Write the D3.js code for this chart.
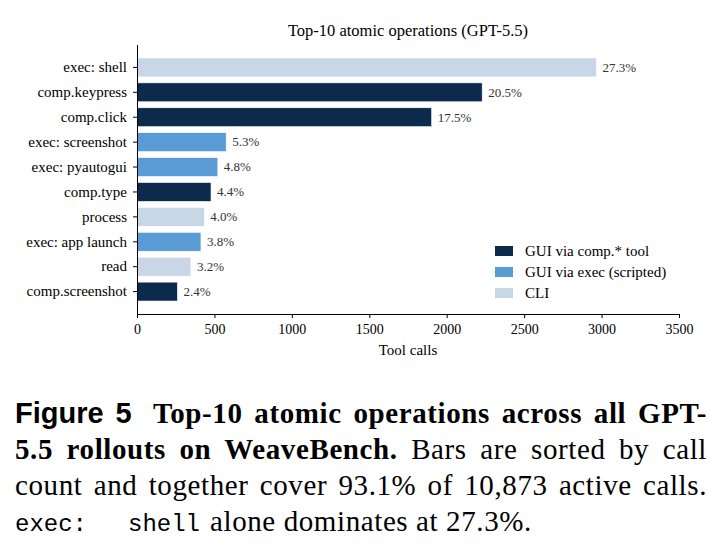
<!DOCTYPE html>
<html>
    <head>
        <title>Top-10 atomic operations</title>
        <style>
            body { margin: 0; background: #fff; }
            svg text { font-family: "Liberation Serif", "Times New Roman", Times, serif; }
        </style>
        <script src="https://cdnjs.cloudflare.com/ajax/libs/d3/7.8.5/d3.min.js"></script>
    </head>
    <body>
        <div id="chart"></div>
        <script>
            // data
            const operations = ["exec: shell", "comp.keypress", "comp.click", "exec: screenshot", "exec: pyautogui",
                                "comp.type", "process", "exec: app launch", "read", "comp.screenshot"];
            const callCounts = [2968, 2229, 1903, 576, 522, 478, 435, 413, 348, 261];
            const shareLabels = ["27.3%", "20.5%", "17.5%", "5.3%", "4.8%", "4.4%", "4.0%", "3.8%", "3.2%", "2.4%"];
            const groups = ["CLI", "GUI", "GUI", "EXEC", "EXEC", "GUI", "CLI", "EXEC", "CLI", "GUI"];
            const legendKeys = ["GUI", "EXEC", "CLI"];
            const legendNames = ["GUI via comp.* tool", "GUI via exec (scripted)", "CLI"];
            const xTicks = [0, 500, 1000, 1500, 2000, 2500, 3000, 3500];

            const colors = { GUI: "#0c2a4b", EXEC: "#5b9bd5", CLI: "#c8d6e6" };
            const SERIF = '"Liberation Serif", "Times New Roman", Times, serif';
            const SANS = '"Liberation Sans", Arial, Helvetica, sans-serif';
            const MONO = '"Liberation Mono", "Courier New", monospace';

            const W = 726, H = 555;
            const plotL = 137, plotR = 679, plotT = 45, plotB = 314;

            const svg = d3.select("#chart").append("svg")
                .attr("width", W)
                .attr("height", H);

            const x = d3.scaleLinear().domain([0, 3500]).range([plotL, plotR]);
            const y = d3.scaleBand().domain(operations).range([plotT, plotB])
                .paddingInner(0.24).paddingOuter(0.52);

            // title
            svg.append("text")
                .attr("x", (plotL + plotR) / 2)
                .attr("y", 36)
                .attr("text-anchor", "middle")
                .style("font-family", SERIF)
                .style("font-size", "16.5px")
                .text("Top-10 atomic operations (GPT-5.5)");

            // bars
            const rows = operations.map((op, i) => ({ op, v: callCounts[i], lab: shareLabels[i], g: groups[i] }));

            svg.selectAll("rect.bar")
                .data(rows)
                .enter()
                .append("rect")
                .attr("class", "bar")
                .attr("x", x(0))
                .attr("y", d => y(d.op))
                .attr("width", d => x(d.v) - x(0))
                .attr("height", y.bandwidth())
                .attr("fill", d => colors[d.g])
                .attr("stroke", "#fff")
                .attr("stroke-width", 0.6);

            svg.selectAll("text.val")
                .data(rows)
                .enter()
                .append("text")
                .attr("class", "val")
                .attr("x", d => x(d.v) + 6)
                .attr("y", d => y(d.op) + y.bandwidth() / 2)
                .attr("dy", "0.33em")
                .style("font-family", SERIF)
                .style("font-size", "13px")
                .attr("fill", "#333")
                .text(d => d.lab);

            // axes
            const yAxis = d3.axisLeft(y).tickSize(4).tickPadding(6);
            const gy = svg.append("g")
                .attr("transform", "translate(" + plotL + ",0)")
                .call(yAxis);
            gy.select(".domain").attr("d", "M0.5," + plotT + "V" + plotB);
            gy.selectAll(".tick text").style("font-size", "15px").attr("fill", "#000")
                .style("font-family", SERIF);

            const xAxis = d3.axisBottom(x).tickValues(xTicks).tickSize(4).tickPadding(6).tickFormat(d => d);
            const gx = svg.append("g")
                .attr("transform", "translate(0," + plotB + ")")
                .call(xAxis);
            gx.select(".domain").attr("d", "M" + plotL + ",0.5H" + plotR);
            gx.selectAll(".tick text").style("font-size", "14px").attr("fill", "#000")
                .style("font-family", SERIF);

            svg.append("text")
                .attr("x", (plotL + plotR) / 2)
                .attr("y", 355)
                .attr("text-anchor", "middle")
                .style("font-family", SERIF)
                .style("font-size", "15px")
                .text("Tool calls");

            // legend
            const leg = svg.append("g").attr("transform", "translate(495,246)");
            legendKeys.forEach((k, i) => {
                leg.append("rect")
                    .attr("x", 0).attr("y", i * 21)
                    .attr("width", 18).attr("height", 10)
                    .attr("fill", colors[k]);
                leg.append("text")
                    .attr("x", 30).attr("y", i * 21 + 5)
                    .attr("dy", "0.33em")
                    .style("font-family", SERIF)
                    .style("font-size", "15px")
                    .text(legendNames[i]);
            });

            // caption: stretch the inter-word spaces so a line ends at the right margin
            const capL = 15, capR = 707;
            function justify(sel) {
                const node = sel.node();
                const gaps = (node.textContent.match(/ /g) || []).length;
                if (!gaps) return;
                let ws = 0;
                for (let k = 0; k < 3; k++) {
                    const b = node.getBBox();
                    ws += (capR - (b.x + b.width)) / gaps;
                    sel.style("word-spacing", ws + "px");
                }
            }

            const cap = svg.append("g")
                .style("font-family", SERIF)
                .style("font-size", "29px")
                .style("letter-spacing", "0.6px");

            const l1 = cap.append("text").attr("x", capL).attr("y", 423);
            l1.append("tspan").style("font-family", SANS).style("font-weight", "bold")
                .style("letter-spacing", "0px").text("Figure 5");
            l1.append("tspan").attr("dx", 10).style("font-weight", "bold")
                .text(" Top-10 atomic operations across all GPT-");
            justify(l1);

            const l2 = cap.append("text").attr("x", capL).attr("y", 459);
            l2.append("tspan").style("font-weight", "bold").text("5.5 rollouts on WeaveBench.");
            l2.append("tspan").text(" Bars are sorted by call");
            justify(l2);

            const l3 = cap.append("text").attr("x", capL).attr("y", 495)
                .text("count and together cover 93.1% of 10,873 active calls.");
            justify(l3);

            const l4 = cap.append("text").attr("x", capL).attr("y", 531);
            l4.append("tspan").style("font-family", MONO).style("font-size", "24px")
                .style("letter-spacing", "0px").text("exec:");
            l4.append("tspan").attr("x", 128).style("font-family", MONO).style("font-size", "24px")
                .style("letter-spacing", "0px").text("shell");
            l4.append("tspan").attr("x", 210).text("alone dominates at 27.3%.");
        </script>
    </body>
</html>
